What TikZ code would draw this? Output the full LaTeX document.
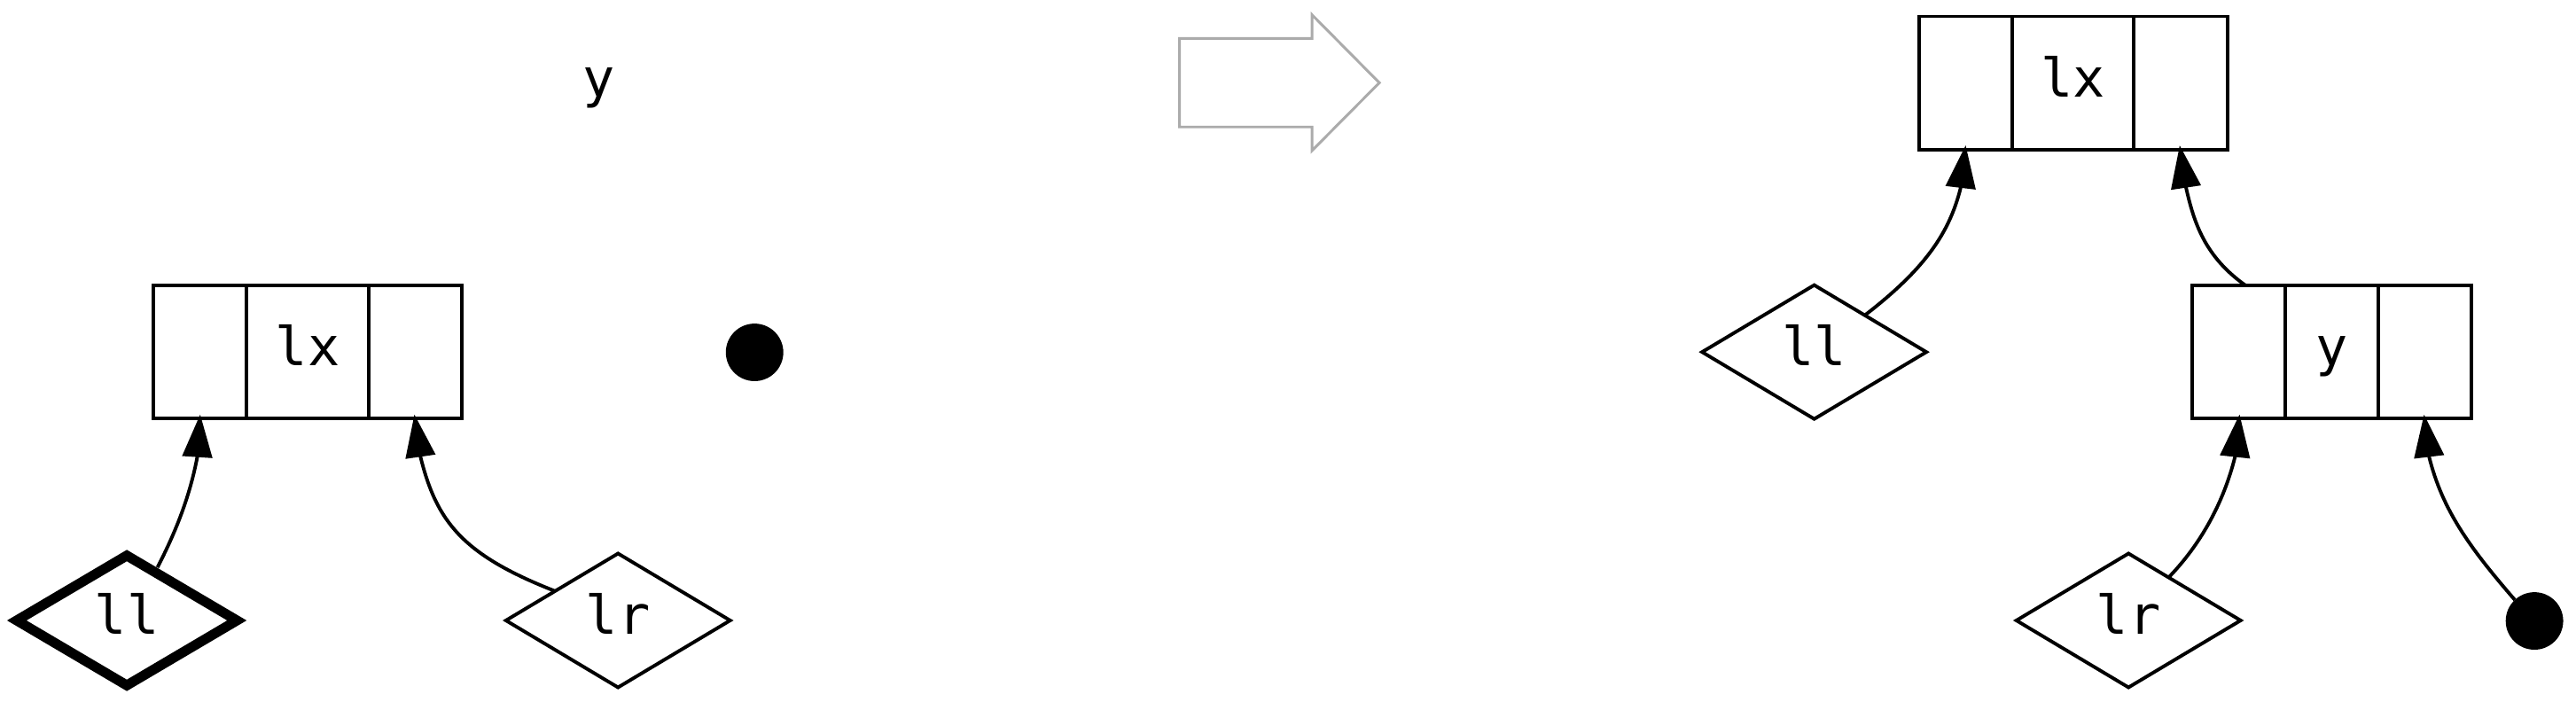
\documentclass[tikz,border=0pt]{standalone}
\usepackage{fontspec}
\newfontfamily\gvmono{DejaVu Sans Mono}
\usetikzlibrary{shapes.geometric,arrows.meta}
\begin{document}
\begin{tikzpicture}[x=1pt,y=-1pt,
  lbl/.style={font=\gvmono\fontsize{32.5}{39}\selectfont, text height=24.7pt, text depth=7.8pt, inner sep=0pt, outer sep=0pt},
  cell/.style={lbl, draw, rectangle, line width=2.1pt, minimum height=81pt, anchor=west},
  dmd/.style={lbl, draw, diamond, line width=2.1pt, minimum width=136.5pt, minimum height=81.5pt},
  thickdmd/.style={dmd, line width=6pt, outer sep=3pt},
  dot/.style={circle, fill=black, draw=none, minimum size=35pt, inner sep=0pt, outer sep=0pt},
  conn/.style={line width=2.1pt, -{Triangle[length=26pt,width=18pt]}},
  bigarrow/.style={draw=black!33, line width=1.6pt, fill=white}
]
\path[use as bounding box, fill=white] (0,0) rectangle (1568,427.3);

% ---------- left panel ----------
\node[lbl] (ytxt) at (364.7,50.5) {y};
\node[cell, minimum width=56.7pt] (lxL) at (93.5,214.3) {};
\node[cell, minimum width=74.3pt] (lxM) at (lxL.east) {lx};
\node[cell, minimum width=56.5pt] (lxR) at (lxM.east) {};
\node[dot] (dotL) at (459.3,214.5) {};
\node[thickdmd] (llL) at (77.2,377.7) {ll};
\node[dmd] (lrL) at (376.2,377.7) {lr};

\draw[conn] (llL.60) .. controls (108.2,321.4) and (115.8,300.6) .. ([shift={(-1.75pt,-23.3pt)}]lxL.south) -- ([yshift=2.5pt]lxL.south);
\draw[conn] (lrL.155) .. controls (281.2,337.7) and (265.7,317.2) .. ([shift={(3.25pt,-23.5pt)}]lxR.south) -- ([shift={(-0.5pt,2.5pt)}]lxR.south);

% ---------- transformation arrow ----------
\draw[bigarrow] (718,23.4) -- (798.6,23.4) -- (798.6,9) -- (839.6,50.4) -- (798.6,91.7) -- (798.6,77.3) -- (718,77.3) -- cycle;

% ---------- right panel ----------
\node[cell, minimum width=56.6pt] (rlxL) at (1168.2,50.5) {};
\node[cell, minimum width=74.1pt] (rlxM) at (rlxL.east) {lx};
\node[cell, minimum width=56.9pt] (rlxR) at (rlxM.east) {};
\node[dmd] (llR) at (1104.3,214.3) {ll};
\node[cell, minimum width=56.6pt] (yL) at (1334.5,214.3) {};
\node[cell, minimum width=56.6pt] (yM) at (yL.east) {y};
\node[cell, minimum width=56.6pt] (yR) at (yM.east) {};
\node[dmd] (lrR) at (1295.6,377.7) {lr};
\node[dot] (dotR) at (1542.7,378) {};

\draw[conn] (llR.36.6) .. controls (1171.5,163.9) and (1186.6,141.9) .. ([shift={(-3.1pt,-23.4pt)}]rlxL.south) -- ([yshift=2.5pt]rlxL.south);
\draw[conn] ([xshift=4.1pt]yL.north) .. controls (1341.9,156.1) and (1335.4,135.5) .. ([shift={(3.2pt,-22.9pt)}]rlxR.south) -- ([shift={(-0.6pt,2.5pt)}]rlxR.south);
\draw[conn] (lrR.47.7) .. controls (1340,330.9) and (1353.6,305.4) .. ([shift={(-2.4pt,-23.4pt)}]yL.south) -- ([shift={(0.4pt,2.5pt)}]yL.south);
\draw[conn] (dotR.133.4) .. controls (1502.8,332.9) and (1486.6,310.2) .. ([shift={(2.6pt,-23.4pt)}]yR.south) -- ([shift={(-0.5pt,2.5pt)}]yR.south);
\end{tikzpicture}
\end{document}
